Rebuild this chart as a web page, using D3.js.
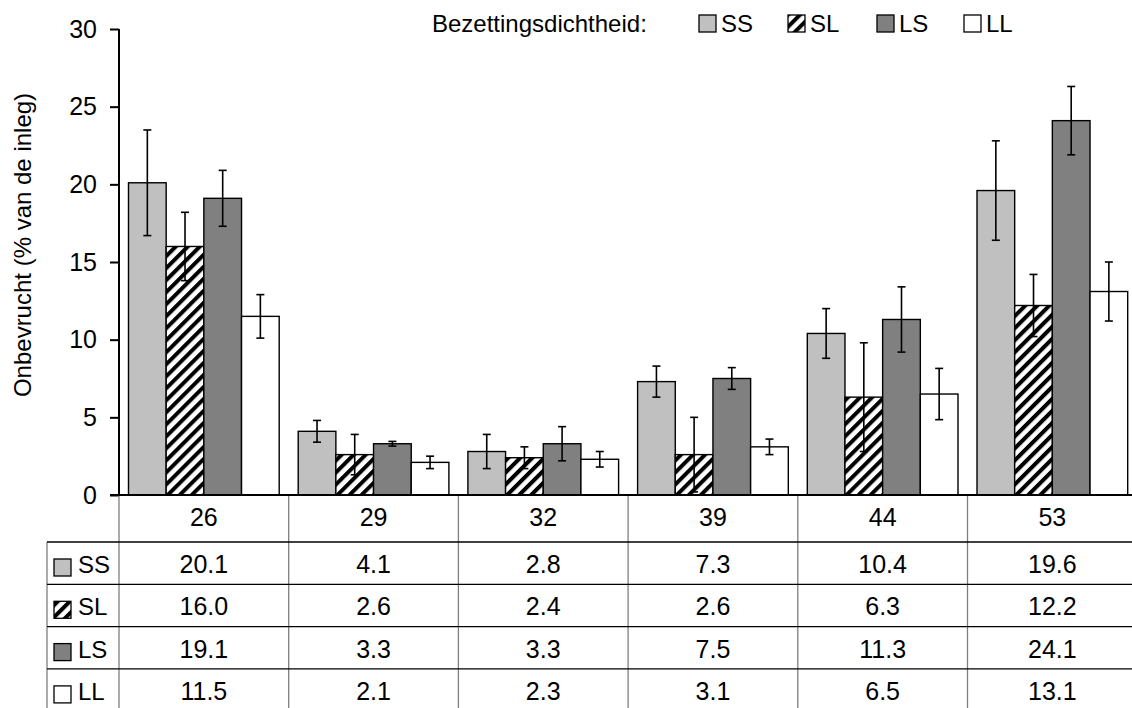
<!DOCTYPE html>
<html>
<head>
<meta charset="utf-8">
<script src="https://cdn.jsdelivr.net/npm/d3@7"></script>
<style>
  html, body { margin: 0; padding: 0; background: #fff; }
  svg { display: block; font-family: "Liberation Sans", Arial, sans-serif; }
</style>
</head>
<body>
<svg id="chart" width="1132" height="708"></svg>
<script>
// Leeftijd (weken) per groep
const categories = ["26", "29", "32", "39", "44", "53"];
const seriesNames = ["SS", "SL", "LS", "LL"];

// Onbevrucht (% van de inleg) per bezettingsdichtheid
const valuesSS = [20.1, 4.1, 2.8, 7.3, 10.4, 19.6];
const valuesSL = [16.0, 2.6, 2.4, 2.6, 6.3, 12.2];
const valuesLS = [19.1, 3.3, 3.3, 7.5, 11.3, 24.1];
const valuesLL = [11.5, 2.1, 2.3, 3.1, 6.5, 13.1];

// Spreiding (± foutbalk)
const errorsSS = [3.4, 0.7, 1.1, 1.0, 1.6, 3.2];
const errorsSL = [2.2, 1.3, 0.7, 2.4, 3.5, 2.0];
const errorsLS = [1.8, 0.15, 1.1, 0.7, 2.1, 2.2];
const errorsLL = [1.4, 0.4, 0.5, 0.5, 1.65, 1.9];

const yTicks = [0, 5, 10, 15, 20, 25, 30];

const valueTable = { SS: valuesSS, SL: valuesSL, LS: valuesLS, LL: valuesLL };
const errorTable = { SS: errorsSS, SL: errorsSL, LS: errorsLS, LL: errorsLL };
const fills = { SS: "#c0c0c0", SL: "url(#hatch)", LS: "#808080", LL: "#ffffff" };

const svg = d3.select("#chart");
const W = 1132, H = 708;
const FONT = 24;     // labels
const NUM_FONT = 25; // numbers

// diagonal hatch for SL
const defs = svg.append("defs");
const pat = defs.append("pattern")
  .attr("id", "hatch")
  .attr("patternUnits", "userSpaceOnUse")
  .attr("width", 8.5).attr("height", 8.5)
  .attr("patternTransform", "rotate(45)");
pat.append("rect").attr("width", 8.5).attr("height", 8.5).attr("fill", "#fff");
pat.append("rect").attr("x", 0).attr("width", 4).attr("height", 8.5).attr("fill", "#000");

const plotLeft = 119, plotBottom = 495, plotTop = 29;
const y = d3.scaleLinear().domain([0, 30]).range([plotBottom, plotTop]);
const x0 = d3.scaleBand().domain(categories).range([plotLeft, plotLeft + 6 * 169.7]);
const bw = x0.bandwidth();
const x1 = d3.scaleBand().domain(seriesNames).range([9.5, bw - 9.5]);

// bars
const groups = svg.append("g").selectAll("g")
  .data(categories)
  .join("g")
  .attr("transform", d => `translate(${x0(d)},0)`);

groups.selectAll("rect")
  .data((c, i) => seriesNames.map(s => ({ s, v: valueTable[s][i] })))
  .join("rect")
  .attr("x", d => x1(d.s))
  .attr("y", d => y(d.v))
  .attr("width", x1.bandwidth())
  .attr("height", d => y(0) - y(d.v))
  .attr("fill", d => fills[d.s])
  .attr("stroke", "#000")
  .attr("stroke-width", 1.4);

// error bars
const errData = (c, i) => seriesNames.map(s => ({ s, v: valueTable[s][i], e: errorTable[s][i] }));
const eb = groups.selectAll("g.err")
  .data(errData)
  .join("g")
  .attr("class", "err")
  .attr("transform", d => `translate(${x1(d.s) + x1.bandwidth() / 2},0)`);
eb.append("line")
  .attr("y1", d => y(d.v + d.e)).attr("y2", d => y(d.v - d.e))
  .attr("stroke", "#000").attr("stroke-width", 1.6);
eb.append("line")
  .attr("x1", -4).attr("x2", 4)
  .attr("y1", d => y(d.v + d.e)).attr("y2", d => y(d.v + d.e))
  .attr("stroke", "#000").attr("stroke-width", 1.6);
eb.append("line")
  .attr("x1", -4).attr("x2", 4)
  .attr("y1", d => y(d.v - d.e)).attr("y2", d => y(d.v - d.e))
  .attr("stroke", "#000").attr("stroke-width", 1.6);

// y axis
const yAxis = d3.axisLeft(y).tickValues(yTicks).tickSize(9).tickPadding(13).tickFormat(d3.format("d"));
const ya = svg.append("g").attr("transform", `translate(${plotLeft},0)`).call(yAxis);
ya.select(".domain").attr("stroke", "#000").attr("stroke-width", 2).attr("d", `M0,${plotTop}V${plotBottom}`);
ya.selectAll(".tick line").attr("stroke", "#000").attr("stroke-width", 2);
ya.selectAll(".tick text")
  .attr("font-size", NUM_FONT)
  .attr("font-family", "Liberation Sans, Arial, sans-serif")
  .attr("fill", "#000");

svg.append("text")
  .attr("transform", `translate(31,245) rotate(-90)`)
  .attr("text-anchor", "middle")
  .attr("font-size", FONT)
  .text("Onbevrucht (% van de inleg)");

// data table below the plot
const headerH = 47, rowH = 42.3;
const tableTop = plotBottom;
const rowTop = tableTop + headerH;
const keyLeft = 47;
const grid = svg.append("g");

// vertical separators
const vx = [plotLeft, ...categories.map(c => x0(c) + bw)];
grid.selectAll("line.v")
  .data(vx)
  .join("line")
  .attr("x1", d => d).attr("x2", d => d)
  .attr("y1", tableTop).attr("y2", H)
  .attr("stroke", "#7f7f7f").attr("stroke-width", 1.3);
grid.append("line")
  .attr("x1", keyLeft).attr("x2", keyLeft)
  .attr("y1", rowTop).attr("y2", H)
  .attr("stroke", "#7f7f7f").attr("stroke-width", 1.3);

// horizontal separators
grid.selectAll("line.h")
  .data(d3.range(4))
  .join("line")
  .attr("x1", keyLeft).attr("x2", W)
  .attr("y1", i => rowTop + i * rowH).attr("y2", i => rowTop + i * rowH)
  .attr("stroke", "#000").attr("stroke-width", 1.3);

// x axis baseline
svg.append("line")
  .attr("x1", plotLeft - 9).attr("x2", W)
  .attr("y1", plotBottom).attr("y2", plotBottom)
  .attr("stroke", "#000").attr("stroke-width", 2);

// category header
svg.append("g").selectAll("text")
  .data(categories)
  .join("text")
  .attr("x", d => x0(d) + bw / 2)
  .attr("y", tableTop + 31)
  .attr("text-anchor", "middle")
  .attr("font-size", NUM_FONT)
  .text(d => d);

// rows
const rows = svg.append("g").selectAll("g")
  .data(seriesNames)
  .join("g")
  .attr("transform", (d, i) => `translate(0,${rowTop + i * rowH})`);

rows.append("rect")
  .attr("x", 54).attr("y", 17).attr("width", 17).attr("height", 17)
  .attr("fill", d => fills[d]).attr("stroke", "#000").attr("stroke-width", 1.3);
rows.append("text")
  .attr("x", 78).attr("y", 31)
  .attr("font-size", FONT)
  .text(d => d);
rows.selectAll("text.val")
  .data(s => valueTable[s].map((v, i) => ({ v, c: categories[i] })))
  .join("text")
  .attr("class", "val")
  .attr("x", d => x0(d.c) + bw / 2)
  .attr("y", 31)
  .attr("text-anchor", "middle")
  .attr("font-size", NUM_FONT)
  .text(d => d.v.toFixed(1));

// legend
const legend = svg.append("g");
legend.append("text")
  .attr("x", 432).attr("y", 32)
  .attr("font-size", FONT)
  .text("Bezettingsdichtheid:");
const legendX = { SS: 699, SL: 788, LS: 877, LL: 964 };
const li = legend.selectAll("g.item")
  .data(seriesNames)
  .join("g")
  .attr("class", "item")
  .attr("transform", d => `translate(${legendX[d]},0)`);
li.append("rect")
  .attr("x", 0).attr("y", 15).attr("width", 17).attr("height", 17)
  .attr("fill", d => fills[d]).attr("stroke", "#000").attr("stroke-width", 1.3);
li.append("text")
  .attr("x", 22).attr("y", 32)
  .attr("font-size", FONT)
  .text(d => d);
</script>
</body>
</html>
